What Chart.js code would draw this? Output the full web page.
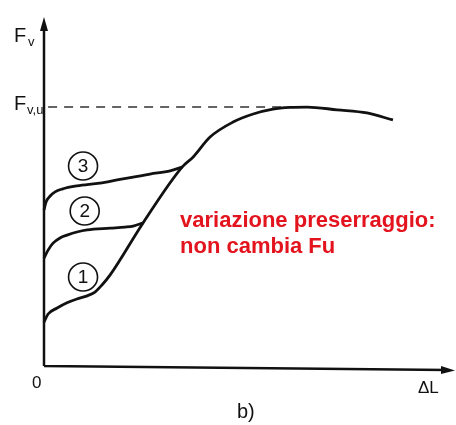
<!DOCTYPE html>
<html>
<head>
<meta charset="utf-8">
<script src="https://cdn.jsdelivr.net/npm/chart.js@4"></script>
<style>
  body { margin: 0; background: #fff; }
</style>
</head>
<body>
<canvas id="grafico" width="456" height="425"></canvas>
<script>
// curva 1 (preserraggio basso) + curva di carico comune fino a rottura
const curva1X = [0, 1.0, 3.2, 5.6, 8.0, 10.5, 12.4, 14.1, 16.1, 24.1, 33.6, 36.3, 40.4, 46.0, 50.9, 55.7, 59.9, 64.0, 71.3, 78.6, 84.9];
const curva1Y = [12.6, 14.9, 16.6, 18.1, 19.2, 20.1, 21.2, 23.2, 26.1, 41.0, 57.0, 59.9, 65.6, 69.9, 72.2, 73.6, 74.1, 74.2, 73.4, 72.5, 70.5];
// curva 2
const curva2X = [0, 1.0, 2.2, 3.9, 5.6, 8.0, 10.5, 16.1, 19.7, 21.7, 24.1];
const curva2Y = [30.9, 33.2, 35.2, 36.7, 37.5, 38.4, 39.0, 39.5, 39.8, 40.1, 41.0];
// curva 3
const curva3X = [0, 0.5, 1.5, 2.7, 4.4, 8.0, 13.6, 17.8, 25.8, 30.7, 33.6];
const curva3Y = [44.7, 47.0, 48.7, 49.9, 50.7, 51.6, 52.4, 53.3, 55.0, 55.9, 57.0];
// carico ultimo Fv,u
const fvu = 74.2;
const fvuFineX = 58;

const etichette = ["1", "2", "3"];
const etichetteX = [9.5, 9.9, 9.5];
const etichetteY = [25.5, 44.4, 57.3];

const punti = (xs, ys) => xs.map((x, i) => ({ x: x, y: ys[i] }));

const assi = {
  id: 'assi',
  afterDraw(chart) {
    const ctx = chart.ctx;
    const sx = chart.scales.x, sy = chart.scales.y;
    const x0 = sx.getPixelForValue(0), y0 = sy.getPixelForValue(0);
    const xMax = sx.getPixelForValue(100), yMax = sy.getPixelForValue(100);
    ctx.save();
    ctx.strokeStyle = '#111';
    ctx.fillStyle = '#111';
    ctx.lineWidth = 2.5;
    ctx.beginPath();
    ctx.moveTo(x0, y0);
    ctx.lineTo(x0, yMax + 8);
    ctx.moveTo(x0, y0);
    ctx.lineTo(xMax - 8, y0 + 4);
    ctx.stroke();
    // frecce
    ctx.beginPath();
    ctx.moveTo(x0, yMax);
    ctx.lineTo(x0 - 4, yMax + 14);
    ctx.lineTo(x0 + 4, yMax + 14);
    ctx.closePath();
    ctx.fill();
    ctx.beginPath();
    ctx.moveTo(xMax, y0 + 4.5);
    ctx.lineTo(xMax - 14, y0);
    ctx.lineTo(xMax - 14, y0 + 8);
    ctx.closePath();
    ctx.fill();

    // testi degli assi
    ctx.font = '20px "Liberation Sans", Arial, sans-serif';
    ctx.textBaseline = 'alphabetic';
    ctx.textAlign = 'left';
    ctx.fillText('F', 14, 42);
    ctx.fillText('F', 14, 110);
    ctx.font = '13px "Liberation Sans", Arial, sans-serif';
    ctx.fillText('v', 28, 46);
    ctx.fillText('v,u', 27, 114);
    ctx.font = '17px "Liberation Sans", Arial, sans-serif';
    ctx.fillText('0', 32, 388);
    ctx.fillText('ΔL', 418, 393);
    ctx.font = '20px "Liberation Sans", Arial, sans-serif';
    ctx.fillText('b)', 237, 418);

    // numeri cerchiati
    ctx.lineWidth = 1.6;
    ctx.font = '19px "Liberation Sans", Arial, sans-serif';
    ctx.textAlign = 'center';
    ctx.textBaseline = 'middle';
    etichette.forEach((t, i) => {
      const cx = sx.getPixelForValue(etichetteX[i]);
      const cy = sy.getPixelForValue(etichetteY[i]);
      ctx.beginPath();
      ctx.ellipse(cx, cy, 14.5, 14, 0, 0, Math.PI * 2);
      ctx.stroke();
      ctx.fillText(t, cx, cy + 1);
    });

    // nota in rosso
    ctx.fillStyle = '#e3141e';
    ctx.font = 'bold 22px "Liberation Sans", Arial, sans-serif';
    ctx.textAlign = 'left';
    ctx.textBaseline = 'alphabetic';
    ctx.fillText('variazione preserraggio:', 180, 227);
    ctx.fillText('non cambia Fu', 180, 253);
    ctx.restore();
  }
};

const stileCurva = {
  borderColor: '#111',
  borderWidth: 2.8,
  pointRadius: 0,
  showLine: true,
  fill: false,
  cubicInterpolationMode: 'monotone',
  clip: false
};

new Chart(document.getElementById('grafico').getContext('2d'), {
  type: 'scatter',
  data: {
    datasets: [
      { ...stileCurva, data: punti(curva1X, curva1Y) },
      { ...stileCurva, data: punti(curva2X, curva2Y) },
      { ...stileCurva, data: punti(curva3X, curva3Y) },
      {
        data: [{ x: 1, y: fvu }, { x: fvuFineX, y: fvu }],
        showLine: true,
        pointRadius: 0,
        borderColor: '#333',
        borderWidth: 1.5,
        borderDash: [9, 7],
        clip: false
      }
    ]
  },
  options: {
    responsive: false,
    animation: false,
    layout: { padding: { left: 44, top: 17, right: 1, bottom: 59 } },
    plugins: { legend: { display: false }, tooltip: { enabled: false } },
    scales: {
      x: { type: 'linear', min: 0, max: 100, display: false },
      y: { type: 'linear', min: 0, max: 100, display: false }
    }
  },
  plugins: [assi]
});
</script>
</body>
</html>
